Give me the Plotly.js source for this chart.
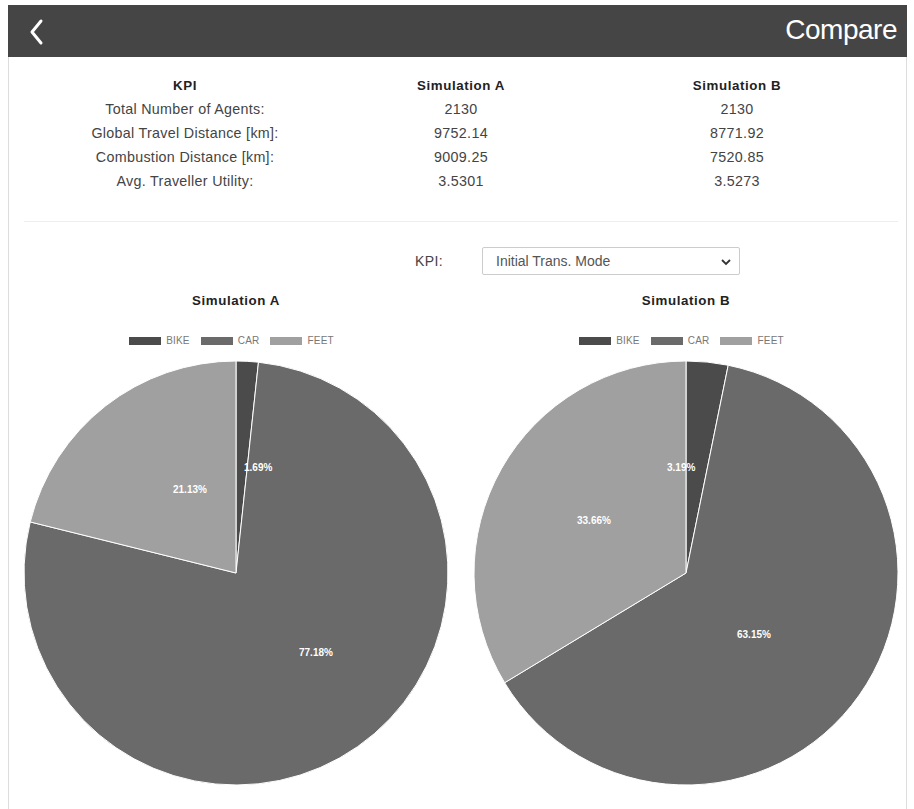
<!DOCTYPE html>
<html>
<head>
<meta charset="utf-8">
<script src="https://cdn.plot.ly/plotly-3.0.1.min.js"></script>
<style>
  html, body { margin:0; padding:0; background:#fff; width:914px; height:809px; overflow:hidden;
    font-family: "Liberation Sans", Arial, sans-serif; }
  #frame { position:absolute; left:8px; top:5px; width:897px; height:820px;
    border-left:1px solid #ddd; border-right:1px solid #ddd; }
  #header { position:absolute; left:8px; top:5px; width:899px; height:52px; background:#454545; }
  #header .title { position:absolute; right:10px; top:9px; color:#fff; font-size:28px; letter-spacing:-0.5px; }
  #header svg { position:absolute; left:18px; top:13px; }
  .cell { position:absolute; width:276px; text-align:center; font-size:14.3px; letter-spacing:0.3px; color:#444; }
  .hdr { font-weight:bold; color:#222; font-size:13.3px; letter-spacing:0.6px; }
  #sep { position:absolute; left:24px; top:221px; width:874px; height:1px; background:#eee; }
  #kpiLabel { position:absolute; left:415px; top:253px; font-size:14px; letter-spacing:0.4px; color:#444; }
  #sel { position:absolute; left:482px; top:247px; width:258px; height:28px; border:1px solid #ccc;
    box-sizing:border-box; border-radius:2px; font-size:14px; color:#555; }
  #sel span { position:absolute; left:13px; top:5px; }
  #sel svg { position:absolute; right:8px; top:10px; }
  .ptitle { position:absolute; width:300px; text-align:center; font-weight:bold; font-size:13.3px; letter-spacing:0.6px; color:#222; top:293px; }
  .legend { position:absolute; width:400px; top:335px; display:flex; justify-content:center; align-items:center;
    font-size:10px; letter-spacing:0.2px; color:#777; }
  .legend .box { display:inline-block; width:32px; height:8px; border:1px solid #fff; margin-right:4px; }
  .legend .item { display:flex; align-items:center; margin-right:10px; }
  #plot { position:absolute; left:0; top:285px; width:914px; height:524px; }
</style>
</head>
<body>
<div id="frame"></div>
<div id="header">
  <svg width="20" height="28" viewBox="0 0 20 28"><polyline points="15,3 6,14 15,25" fill="none" stroke="#fff" stroke-width="3" stroke-linecap="round" stroke-linejoin="round"/></svg>
  <div class="title">Compare</div>
</div>
<div id="table"></div>
<div id="sep"></div>
<div id="kpiLabel">KPI:</div>
<div id="sel"><span>Initial Trans. Mode</span>
  <svg width="10" height="8" viewBox="0 0 10 8"><polyline points="1,2 5,6 9,2" fill="none" stroke="#333" stroke-width="1.8"/></svg>
</div>
<div id="plot"></div>
<script>
// ---- data ----
const kpiNames = ["Total Number of Agents:", "Global Travel Distance [km]:", "Combustion Distance [km]:", "Avg. Traveller Utility:"];
const kpiSimA = ["2130", "9752.14", "9009.25", "3.5301"];
const kpiSimB = ["2130", "8771.92", "7520.85", "3.5273"];
const tableHeaders = ["KPI", "Simulation A", "Simulation B"];

const modes = ["BIKE", "CAR", "FEET"];
const simA = [1.69, 77.18, 21.13];
const simB = [3.19, 63.15, 33.66];
const pieTitles = ["Simulation A", "Simulation B"];
const modeColors = ["#4b4b4b", "#6a6a6a", "#a0a0a0"];

// ---- table ----
const table = document.getElementById('table');
const colLeft = [47, 323, 599];
const cols = [kpiNames, kpiSimA, kpiSimB];
tableHeaders.forEach((h, c) => {
  const d = document.createElement('div');
  d.className = 'cell hdr'; d.style.left = colLeft[c] + 'px'; d.style.top = '78px';
  d.textContent = h; table.appendChild(d);
  cols[c].forEach((v, r) => {
    const e = document.createElement('div');
    e.className = 'cell'; e.style.left = colLeft[c] + 'px'; e.style.top = (101 + r * 24) + 'px';
    e.textContent = v; table.appendChild(e);
  });
});

// ---- pie titles + legends ----
const centersX = [236, 686];
pieTitles.forEach((t, i) => {
  const d = document.createElement('div');
  d.className = 'ptitle'; d.style.left = (centersX[i] - 150) + 'px'; d.textContent = t;
  document.body.appendChild(d);
  const lg = document.createElement('div');
  lg.className = 'legend'; lg.style.left = (centersX[i] - 200) + 'px';
  modes.forEach((m, k) => {
    const it = document.createElement('span'); it.className = 'item';
    const b = document.createElement('span'); b.className = 'box'; b.style.background = modeColors[k];
    it.appendChild(b); it.appendChild(document.createTextNode(m));
    lg.appendChild(it);
  });
  document.body.appendChild(lg);
});

// ---- pies ----
const W = 914, H = 524;
const domains = [
  {x: [24 / W, 448 / W], y: [24 / H, 448 / H]},
  {x: [474 / W, 898 / W], y: [24 / H, 448 / H]}
];
const series = [simA, simB];
const traces = series.map((vals, i) => ({
  type: 'pie', values: vals, labels: modes, sort: false, direction: 'clockwise', rotation: 0,
  marker: {colors: modeColors, line: {color: '#ffffff', width: 1}},
  textinfo: 'none', hoverinfo: 'none', showlegend: false, domain: domains[i]
}));

// labels at mid-angle, half radius
const annotations = [];
series.forEach((vals, i) => {
  const d = domains[i];
  const cx = (d.x[0] + d.x[1]) / 2, cy = (d.y[0] + d.y[1]) / 2;
  const Rpx = Math.min((d.x[1] - d.x[0]) * W, (d.y[1] - d.y[0]) * H) / 2;
  const total = vals.reduce((a, b) => a + b, 0);
  let cum = 0;
  vals.forEach(v => {
    const mid = (cum + v / 2) / total * 2 * Math.PI;
    cum += v;
    const r = 0.5 * Rpx;
    annotations.push({
      xref: 'paper', yref: 'paper', showarrow: false,
      x: cx + r * Math.sin(mid) / W, y: cy + r * Math.cos(mid) / H,
      text: v.toFixed(2) + '%',
      font: {family: 'Liberation Sans, Arial, sans-serif', size: 10, color: '#ffffff', weight: 'bold'}
    });
  });
});

Plotly.newPlot('plot', traces, {
  width: W, height: H, margin: {l: 0, r: 0, t: 0, b: 0},
  paper_bgcolor: 'rgba(0,0,0,0)', plot_bgcolor: 'rgba(0,0,0,0)',
  annotations: annotations, showlegend: false
}, {displayModeBar: false, staticPlot: true});
</script>
</body>
</html>
